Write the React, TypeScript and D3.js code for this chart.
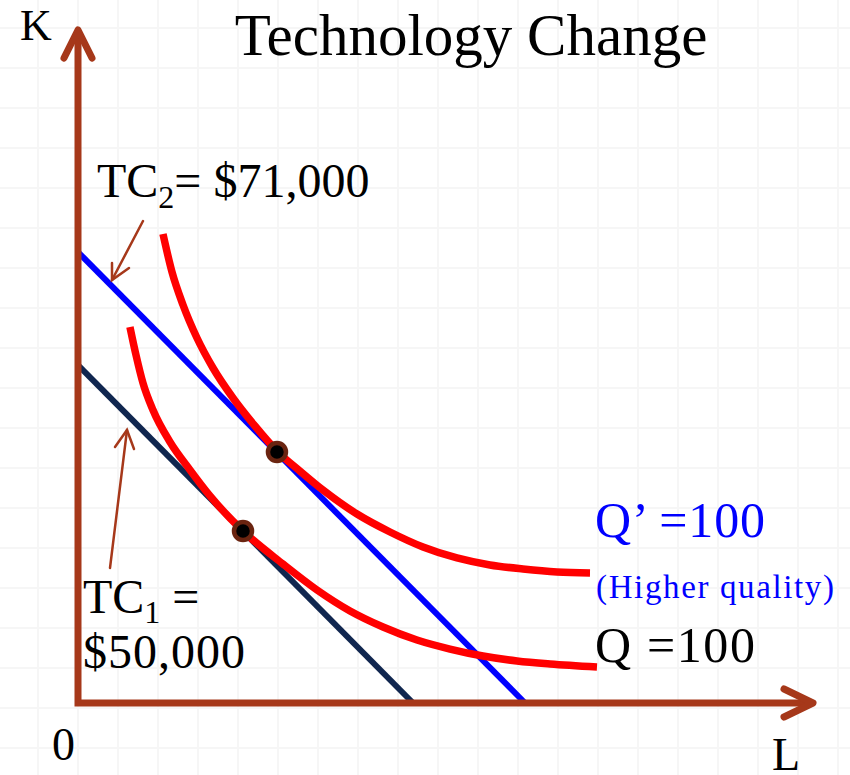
import React from "react";
import * as d3 from "d3";

type Pt = { L: number; K: number };

// Isoquants (L, K in chart units, 0..100 on each axis)
const isoquantHigh: Pt[] = [
  { L: 11.56, K: 69.69 }, { L: 12.79, K: 64.04 }, { L: 14.29, K: 59.14 },
  { L: 16.19, K: 54.23 }, { L: 18.37, K: 49.78 }, { L: 21.09, K: 45.32 },
  { L: 24.08, K: 41.16 }, { L: 27.07, K: 37.44 }, { L: 30.2, K: 34.47 },
  { L: 33.33, K: 31.65 }, { L: 37.96, K: 28.08 }, { L: 42.45, K: 25.41 },
  { L: 46.94, K: 23.18 }, { L: 51.56, K: 21.55 }, { L: 56.05, K: 20.51 },
  { L: 60.54, K: 19.91 }, { L: 65.17, K: 19.47 }, { L: 69.66, K: 19.32 },
];

const isoquantLow: Pt[] = [
  { L: 7.07, K: 55.87 }, { L: 7.89, K: 51.71 }, { L: 8.84, K: 47.55 },
  { L: 10.2, K: 43.54 }, { L: 12.52, K: 38.78 }, { L: 15.24, K: 34.62 },
  { L: 17.96, K: 30.76 }, { L: 22.45, K: 25.56 }, { L: 27.89, K: 20.65 },
  { L: 32.52, K: 16.79 }, { L: 37.01, K: 13.67 }, { L: 41.5, K: 11.29 },
  { L: 46.12, K: 9.36 }, { L: 50.61, K: 8.02 }, { L: 55.1, K: 6.98 },
  { L: 59.73, K: 6.24 }, { L: 64.22, K: 5.79 }, { L: 70.61, K: 5.35 },
];

// isocost lines
const tc2Line: Pt[] = [{ L: 0, K: 67.01 }, { L: 60.82, K: 0 }];
const tc1Line: Pt[] = [{ L: 0, K: 50.22 }, { L: 45.58, K: 0 }];

// tangency points
const optima: Pt[] = [{ L: 27.07, K: 37.3 }, { L: 22.45, K: 25.56 }];

const W = 850;
const H = 775;
const FONT = "'Liberation Serif', 'Times New Roman', serif";
const BROWN = "#a6381a";

const x = d3.scaleLinear().domain([0, 100]).range([78, 813]);
const y = d3.scaleLinear().domain([0, 100]).range([703, 30]);

const line = d3
  .line<Pt>()
  .x((d) => x(d.L))
  .y((d) => y(d.K));

const curve = d3
  .line<Pt>()
  .x((d) => x(d.L))
  .y((d) => y(d.K))
  .curve(d3.curveMonotoneX);

export default function App() {
  const gridX = d3.range(-2, W, 40);
  const gridY = d3.range(28, H, 40);

  const x0 = x(0);
  const y0 = y(0);
  const xTip = x(100);
  const yTip = y(100);

  return (
    <svg
      width={W}
      height={H}
      style={{ position: "absolute", left: 0, top: 0, background: "#fff" }}
      fontFamily={FONT}
    >
      {/* background grid */}
      <g stroke="#f6f6f6" strokeWidth={2}>
        {gridX.map((gx) => (
          <line key={"gx" + gx} x1={gx} x2={gx} y1={0} y2={H} />
        ))}
        {gridY.map((gy) => (
          <line key={"gy" + gy} x1={0} x2={W} y1={gy} y2={gy} />
        ))}
      </g>

      {/* title */}
      <text x={471} y={55} fontSize={59} textAnchor="middle" fill="#000">
        Technology Change
      </text>

      {/* isocost lines */}
      <path d={line(tc1Line)!} stroke="#10264f" strokeWidth={6} fill="none" />
      <path d={line(tc2Line)!} stroke="#0000ff" strokeWidth={6} fill="none" />

      {/* isoquants */}
      <path d={curve(isoquantHigh)!} stroke="#ff0000" strokeWidth={7.5} fill="none" />
      <path d={curve(isoquantLow)!} stroke="#ff0000" strokeWidth={7.5} fill="none" />

      {/* axes */}
      <path
        d={`M${x0},${yTip + 4}L${x0},${y0}L${xTip - 4},${y0}`}
        stroke={BROWN}
        strokeWidth={7}
        fill="none"
        strokeLinejoin="miter"
      />
      <path
        d={`M${x0 - 14},${yTip + 28}L${x0},${yTip}L${x0 + 14},${yTip + 28}`}
        stroke={BROWN}
        strokeWidth={7}
        fill="none"
        strokeLinecap="round"
        strokeLinejoin="round"
      />
      <path
        d={`M${xTip - 29},${y0 - 14}L${xTip},${y0}L${xTip - 29},${y0 + 14}`}
        stroke={BROWN}
        strokeWidth={7}
        fill="none"
        strokeLinecap="round"
        strokeLinejoin="round"
      />

      {/* tangency points */}
      {optima.map((d, i) => (
        <circle
          key={i}
          cx={x(d.L)}
          cy={y(d.K)}
          r={9}
          fill="#000"
          stroke="#6a2410"
          strokeWidth={4.5}
        />
      ))}

      {/* annotation arrows */}
      <g stroke={BROWN} strokeWidth={2.5} fill="none" strokeLinecap="round">
        <path d="M143,221L112,280" />
        <path d="M112,263L112,280L129,268" />
        <path d="M110,568L127,430" />
        <path d="M115,447L127,430L134,449" />
      </g>

      {/* labels */}
      <text x={20} y={40} fontSize={44}>K</text>
      <text x={52} y={760} fontSize={46}>0</text>
      <text x={772} y={770} fontSize={46}>L</text>

      <text x={97} y={197} fontSize={48}>
        TC<tspan fontSize={32} dy={11}>2</tspan>
        <tspan dy={-11}>= $71,000</tspan>
      </text>

      <text x={83} y={613} fontSize={48}>
        TC<tspan fontSize={32} dy={10}>1</tspan>
        <tspan dy={-10}>{"\u00a0="}</tspan>
      </text>
      <text x={83} y={668} fontSize={48} textLength={162}>$50,000</text>

      <text x={595} y={537} fontSize={50} fill="#0000ff" textLength={170}>Q’ =100</text>
      <text x={596} y={598} fontSize={33} fill="#0000ff" textLength={238}>(Higher quality)</text>
      <text x={595} y={662} fontSize={50} fill="#000" textLength={160}>Q =100</text>
    </svg>
  );
}
